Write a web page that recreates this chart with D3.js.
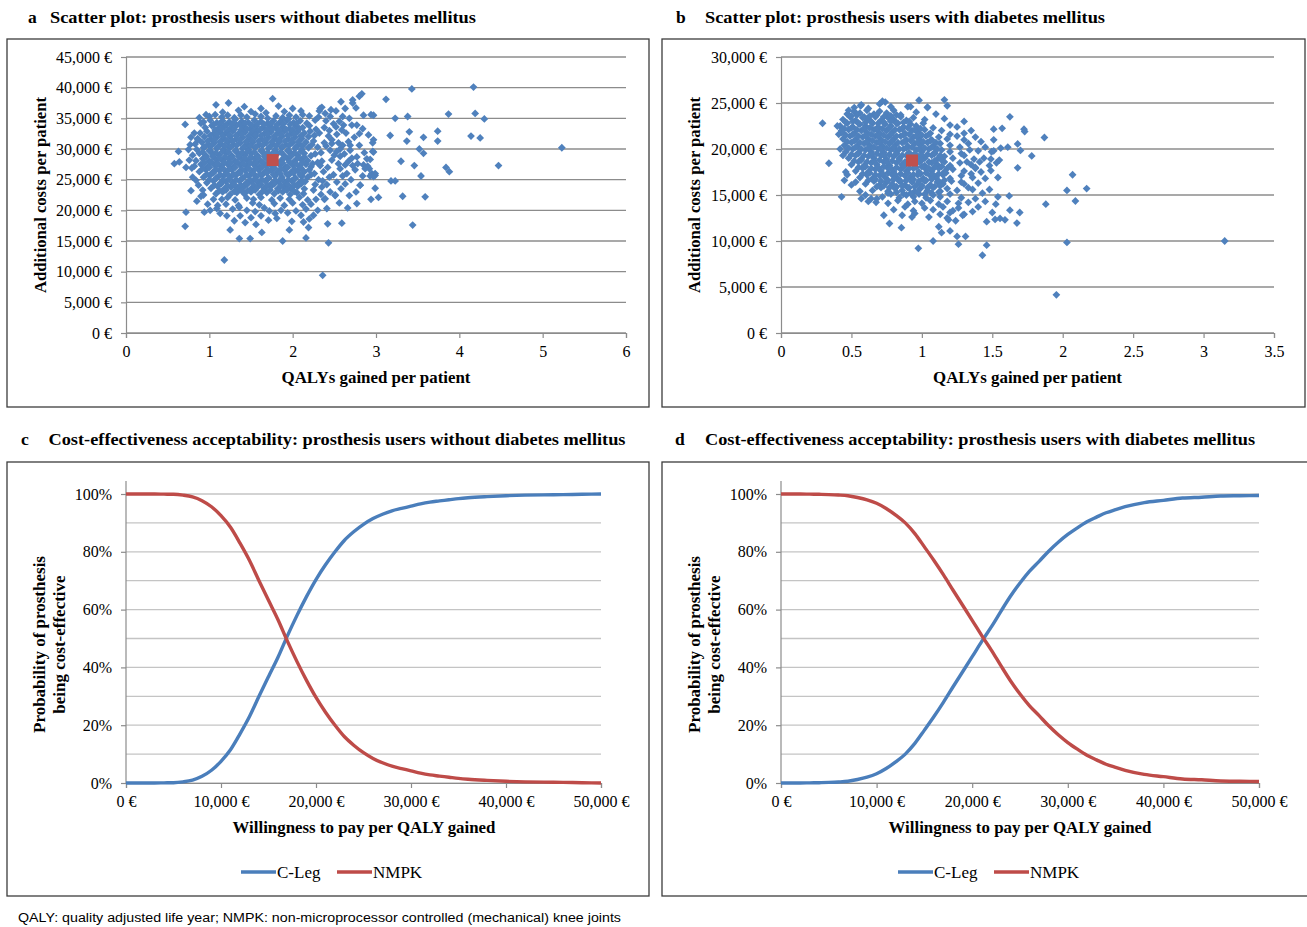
<!DOCTYPE html>
<html>
<head>
<meta charset="utf-8">
<script src="https://cdn.jsdelivr.net/npm/d3@7"></script>
<style>
  body { margin: 0; background: #fff; }
  text { font-family: "Liberation Serif", "Times New Roman", serif; }
</style>
</head>
<body>
<script>
// ---- data (costs in thousand €, probabilities in %) ----
const qalyTicksNoDm = [0, 1, 2, 3, 4, 5, 6];
const costTicksNoDm = [0, 5, 10, 15, 20, 25, 30, 35, 40, 45];
const qalyTicksDm = [0, 0.5, 1, 1.5, 2, 2.5, 3, 3.5];
const costTicksDm = [0, 5, 10, 15, 20, 25, 30];
const wtpTicks = [0, 10000, 20000, 30000, 40000, 50000];
const probTicks = [0, 20, 40, 60, 80, 100];
const probGrid = [0, 10, 20, 30, 40, 50, 60, 70, 80, 90, 100];

const meanNoDm = [1.76, 28.2];
const meanDm = [0.93, 18.75];

// [QALYs gained, additional costs (k€)]
const scatterNoDm = [
[1.0,35.3],[1.07,35.6],[1.15,35.2],[1.22,35.5],[1.3,35.1],[1.38,35.5],[1.45,35.2],[1.55,35.7],[1.62,35.3],[1.7,35.0],[1.8,35.4],[1.88,35.1],[1.96,35.5],[2.04,35.2],[2.12,35.6],
[0.93,34.4],[1.01,34.7],[1.09,34.3],[1.16,34.6],[1.24,34.4],[1.31,34.8],[1.39,34.5],[1.47,34.3],[1.54,34.7],[1.62,34.5],[1.7,34.2],[1.77,34.6],[1.85,34.4],[1.93,34.7],[2.01,34.3],[2.09,34.6],[2.17,34.2],
[0.95,33.5],[1.03,33.8],[1.11,33.4],[1.18,33.7],[1.26,33.5],[1.33,33.9],[1.41,33.6],[1.49,33.3],[1.56,33.7],[1.64,33.5],[1.72,33.8],[1.8,33.4],[1.88,33.6],[1.96,33.3],[2.04,33.7],[2.12,33.5],[2.2,33.8],
[0.89,32.6],[0.97,32.9],[1.05,32.5],[1.13,32.8],[1.2,32.6],[1.28,32.9],[1.35,32.5],[1.43,32.8],[1.51,32.6],[1.58,32.9],[1.66,32.5],[1.74,32.8],[1.82,32.6],[1.9,32.9],[1.98,32.5],[2.06,32.8],[2.14,32.6],[2.21,32.9],
[0.86,31.7],[0.94,32.0],[1.02,31.6],[1.09,31.9],[1.17,31.7],[1.25,32.0],[1.32,31.6],[1.4,31.9],[1.48,31.7],[1.55,32.0],[1.63,31.6],[1.71,31.9],[1.79,31.7],[1.87,32.0],[1.95,31.6],[2.03,31.9],[2.11,31.7],[2.19,32.0],
[0.83,30.8],[0.91,31.1],[0.99,30.7],[1.06,31.0],[1.14,30.8],[1.22,31.1],[1.29,30.7],[1.37,31.0],[1.45,30.8],[1.52,31.1],[1.6,30.7],[1.68,31.0],[1.76,30.8],[1.84,31.1],[1.92,30.7],[2.0,31.0],[2.08,30.8],[2.16,31.1],[2.23,30.7],
[0.85,29.9],[0.93,30.2],[1.01,29.8],[1.09,30.1],[1.17,29.9],[1.24,30.2],[1.32,29.8],[1.4,30.1],[1.47,29.9],[1.55,30.2],[1.63,29.8],[1.71,30.1],[1.79,29.9],[1.87,30.2],[1.95,29.8],[2.03,30.1],[2.11,29.9],[2.19,30.2],
[0.8,29.0],[0.88,29.3],[0.96,28.9],[1.04,29.2],[1.12,29.0],[1.2,29.3],[1.27,28.9],[1.35,29.2],[1.43,29.0],[1.5,29.3],[1.58,28.9],[1.66,29.2],[1.74,29.0],[1.82,29.3],[1.9,28.9],[1.98,29.2],[2.06,29.0],[2.14,29.3],[2.22,28.9],
[0.84,28.1],[0.92,28.4],[1.0,28.0],[1.08,28.3],[1.16,28.1],[1.23,28.4],[1.31,28.0],[1.39,28.3],[1.46,28.1],[1.54,28.4],[1.62,28.0],[1.7,28.3],[1.86,28.1],[1.94,28.4],[2.02,28.0],[2.1,28.3],[2.18,28.1],
[0.82,27.2],[0.9,27.5],[0.98,27.1],[1.06,27.4],[1.14,27.2],[1.22,27.5],[1.29,27.1],[1.37,27.4],[1.45,27.2],[1.53,27.5],[1.6,27.1],[1.68,27.4],[1.76,27.2],[1.84,27.5],[1.92,27.1],[2.0,27.4],[2.08,27.2],[2.16,27.5],[2.22,27.1],
[0.88,26.3],[0.96,26.6],[1.04,26.2],[1.12,26.5],[1.2,26.3],[1.27,26.6],[1.35,26.2],[1.43,26.5],[1.51,26.3],[1.59,26.6],[1.66,26.2],[1.74,26.5],[1.82,26.3],[1.9,26.6],[1.98,26.2],[2.06,26.5],[2.14,26.3],[2.2,26.6],
[0.93,25.4],[1.01,25.7],[1.09,25.3],[1.17,25.6],[1.25,25.4],[1.32,25.7],[1.4,25.3],[1.48,25.6],[1.56,25.4],[1.63,25.7],[1.71,25.3],[1.79,25.6],[1.87,25.4],[1.95,25.7],[2.03,25.3],[2.11,25.6],[2.18,25.4],
[0.97,24.5],[1.05,24.8],[1.13,24.4],[1.2,24.7],[1.28,24.5],[1.36,24.8],[1.44,24.4],[1.51,24.7],[1.59,24.5],[1.67,24.8],[1.75,24.4],[1.83,24.7],[1.91,24.5],[1.99,24.8],[2.07,24.4],[2.15,24.7],
[1.02,23.6],[1.1,23.9],[1.18,23.5],[1.26,23.8],[1.34,23.6],[1.42,23.9],[1.5,23.5],[1.58,23.8],[1.66,23.6],[1.74,23.9],[1.82,23.5],[1.9,23.8],[1.98,23.6],[2.06,23.9],[2.14,23.5],
[1.08,22.7],[1.16,23.0],[1.25,22.6],[1.33,22.9],[1.42,22.7],[1.5,23.0],[1.6,22.6],[1.69,22.9],[1.78,22.7],[1.88,23.0],[1.97,22.6],[2.05,22.9],[2.13,22.7],
[1.15,21.8],[1.22,22.1],[1.31,21.7],[1.45,22.0],[1.53,21.8],[1.62,22.1],[1.75,21.7],[1.85,22.0],[1.96,21.8],[2.08,22.1],[2.18,21.7],
[1.2,21.0],[1.35,20.8],[1.52,21.2],[1.6,20.9],[1.78,21.1],[1.9,20.8],[2.0,21.2],[2.12,20.9],[2.22,21.0],
[1.05,34.0],[1.13,34.2],[1.2,33.9],[1.28,34.1],[1.36,34.0],[1.43,34.2],[1.51,33.9],[1.58,34.1],[1.66,34.0],[1.74,34.2],[1.81,33.9],[1.89,34.1],[1.97,34.0],[2.05,34.2],
[1.07,33.1],[1.15,33.3],[1.22,33.0],[1.3,33.2],[1.38,33.1],[1.45,33.3],[1.53,33.0],[1.61,33.2],[1.69,33.1],[1.76,33.3],[1.84,33.0],[1.92,33.2],[2.0,33.1],[2.08,33.3],
[1.01,32.2],[1.09,32.4],[1.16,32.1],[1.24,32.3],[1.32,32.2],[1.39,32.4],[1.47,32.1],[1.55,32.3],[1.62,32.2],[1.7,32.4],[1.78,32.1],[1.86,32.3],[1.94,32.2],[2.02,32.4],[2.1,32.1],
[0.98,31.3],[1.06,31.5],[1.13,31.2],[1.21,31.4],[1.28,31.3],[1.36,31.5],[1.44,31.2],[1.51,31.4],[1.59,31.3],[1.67,31.5],[1.75,31.2],[1.83,31.4],[1.91,31.3],[1.99,31.5],[2.07,31.2],
[0.95,30.4],[1.03,30.6],[1.1,30.3],[1.18,30.5],[1.26,30.4],[1.33,30.6],[1.41,30.3],[1.49,30.5],[1.56,30.4],[1.64,30.6],[1.72,30.3],[1.8,30.5],[1.88,30.4],[1.96,30.6],[2.04,30.3],[2.12,30.5],
[0.92,29.5],[1.0,29.7],[1.08,29.4],[1.16,29.6],[1.23,29.5],[1.31,29.7],[1.39,29.4],[1.46,29.6],[1.54,29.5],[1.62,29.7],[1.7,29.4],[1.78,29.6],[1.86,29.5],[1.94,29.7],[2.02,29.4],[2.1,29.6],
[0.96,28.6],[1.04,28.8],[1.12,28.5],[1.19,28.7],[1.27,28.6],[1.35,28.8],[1.42,28.5],[1.5,28.7],[1.58,28.6],[1.66,28.8],[1.9,28.6],[1.98,28.8],[2.06,28.5],[2.14,28.7],
[0.94,27.7],[1.02,27.9],[1.1,27.6],[1.18,27.8],[1.25,27.7],[1.33,27.9],[1.41,27.6],[1.49,27.8],[1.56,27.7],[1.64,27.9],[1.72,27.6],[1.8,27.8],[1.88,27.7],[1.96,27.9],[2.04,27.6],[2.12,27.8],
[0.92,26.8],[1.0,27.0],[1.08,26.7],[1.16,26.9],[1.24,26.8],[1.31,27.0],[1.39,26.7],[1.47,26.9],[1.55,26.8],[1.63,27.0],[1.7,26.7],[1.78,26.9],[1.86,26.8],[1.94,27.0],[2.02,26.7],[2.1,26.9],
[0.97,25.9],[1.05,26.1],[1.13,25.8],[1.21,26.0],[1.29,25.9],[1.37,26.1],[1.45,25.8],[1.53,26.0],[1.61,25.9],[1.69,26.1],[1.77,25.8],[1.85,26.0],[1.93,25.9],[2.01,26.1],[2.09,25.8],
[1.0,25.0],[1.08,25.2],[1.16,24.9],[1.24,25.1],[1.32,25.0],[1.4,25.2],[1.48,24.9],[1.55,25.1],[1.63,25.0],[1.71,25.2],[1.79,24.9],[1.87,25.1],[1.95,25.0],[2.03,25.2],[2.11,24.9],
[1.06,24.1],[1.14,24.3],[1.22,24.0],[1.3,24.2],[1.38,24.1],[1.46,24.3],[1.54,24.0],[1.62,24.2],[1.7,24.1],[1.78,24.3],[1.86,24.0],[1.94,24.2],[2.02,24.1],[2.1,24.3],
[1.12,23.2],[1.2,23.3],[1.3,23.1],[1.38,23.3],[1.46,23.2],[1.55,23.3],[1.64,23.1],[1.73,23.3],[1.83,23.2],[1.93,23.3],[2.02,23.1],
[0.75,29.9],[0.72,27.0],[0.8,25.4],[0.84,24.9],[0.82,32.6],[0.78,31.9],[0.76,28.2],[0.88,35.1],[0.92,23.3],[0.85,21.5],[0.98,21.0],[1.05,21.8],[1.1,20.8],
[1.28,20.2],[1.45,20.0],[1.55,19.8],[1.66,20.4],[1.72,19.9],[1.86,20.0],[1.94,19.6],[2.04,19.9],[2.1,19.2],[2.2,18.6],[2.16,20.2],[1.62,19.1],[1.5,18.8],[1.3,18.3],
[1.16,36.0],[1.35,36.3],[1.5,36.1],[1.62,36.6],[1.68,35.9],[1.9,36.1],[2.0,36.6],[2.1,36.2],[1.42,36.9],[1.95,34.9],
[2.33,36.6],[2.45,35.3],[2.27,34.7],[2.49,34.1],[2.6,35.3],[2.61,33.9],[2.59,33.1],[2.71,33.9],[2.67,31.2],[2.47,31.5],[2.43,32.1],[2.32,32.6],[2.53,32.4],[2.55,31.0],
[2.3,30.3],[2.4,30.5],[2.45,29.8],[2.57,30.0],[2.69,29.8],[2.77,28.7],[2.71,28.5],[2.85,27.4],[2.89,28.4],[2.96,29.6],[2.97,31.5],[2.95,26.0],[2.99,25.7],[2.93,25.6],
[2.63,24.3],[2.81,24.1],[2.75,26.6],[2.63,27.4],[2.57,26.8],[2.49,25.8],[2.41,24.2],[2.47,28.2],[2.57,28.8],[2.37,26.3],[2.35,28.0],[2.31,25.0],[2.25,23.3],[2.28,21.8],
[2.3,20.0],[2.39,21.9],[2.51,22.5],[2.33,27.3],[2.27,29.2],[2.25,31.3],[2.38,33.5],[2.52,36.2],[2.68,35.0],[2.55,27.6],[2.65,26.0],[2.7,25.0],[2.45,23.0],[2.58,23.5],
[2.35,23.8],[2.62,29.2],[2.8,30.6],[2.74,31.9],[2.4,34.6],[2.2,35.4],[2.28,33.2],[2.86,29.4],[2.5,29.0],[2.42,27.0],
[2.26,26.0],[2.3,27.8],[2.34,29.4],[2.38,31.0],[2.44,33.0],[2.52,33.6],[2.56,34.5],[2.64,32.6],[2.69,30.6],[2.6,30.6],[2.53,29.6],[2.47,30.9],[2.36,24.8],[2.44,25.4],
[2.53,24.6],[2.6,25.6],[2.72,27.3],[2.67,28.0],[2.78,27.6],[2.84,25.6],[2.76,23.0],[2.68,22.4],[2.56,21.2],[2.34,22.6],[2.27,24.2],[2.22,25.8],[2.24,27.6],[2.26,32.2],
[2.31,35.2],[2.46,36.4],[2.63,36.6],[2.92,26.8],
[0.58,27.6],[0.64,27.9],[0.63,29.6],[0.71,34.0],[0.71,17.4],[0.72,19.7],[0.78,23.2],[0.77,30.7],[0.79,26.9],[0.86,31.5],[0.9,34.2],[0.94,19.7],[0.9,22.3],[0.93,22.5],
[0.87,24.1],[0.96,35.6],[1.08,37.2],[1.23,37.5],[1.18,11.9],[1.25,16.8],[1.36,15.4],[1.49,15.4],[1.63,16.4],[1.36,20.5],[1.43,18.0],[1.13,19.5],[1.09,20.3],[1.21,19.1],
[1.01,20.0],[1.76,38.2],[1.83,37.0],[1.88,15.0],[1.96,16.8],[1.81,18.7],[1.71,18.4],[1.79,19.5],[1.56,17.7],[1.37,19.1],[1.99,18.2],[2.16,15.5],[2.19,17.2],[2.13,18.1],
[2.25,19.2],[2.36,9.4],[2.43,14.7],[2.42,17.8],[2.59,17.9],[2.41,20.3],[2.38,21.8],[2.51,22.4],[2.66,20.4],[2.77,21.1],[2.81,24.1],[2.35,36.8],[2.32,36.2],[2.39,35.8],
[2.58,37.7],[2.72,38.0],[2.72,37.5],[2.76,36.7],[2.8,38.6],[2.83,39.0],[2.77,33.9],[2.84,33.3],[2.8,32.5],[2.85,35.5],[2.91,32.3],[2.94,35.6],[2.97,35.5],[2.96,31.0],
[2.97,29.5],[2.93,28.3],[2.9,27.2],[2.87,26.8],[2.99,26.0],[2.97,25.5],[2.99,23.6],[2.94,21.8],[3.03,22.1],[3.12,38.1],[3.17,32.2],[3.23,35.0],[3.18,24.8],[3.23,24.8],
[3.3,28.0],[3.32,22.3],[3.37,31.3],[3.38,35.3],[3.4,32.8],[3.43,39.8],[3.44,17.6],[3.46,27.3],[3.52,30.0],[3.54,25.6],[3.57,31.9],[3.57,29.3],[3.59,22.2],[3.74,32.9],
[3.74,31.3],[3.84,27.0],[3.88,26.3],[3.87,35.7],[4.14,32.1],[4.17,40.1],[4.19,35.8],[4.25,31.8],[4.3,34.9],[4.47,27.3],[5.23,30.2]
];

// [QALYs gained, additional costs (k€)]
const scatterDm = [
[0.52,24.5],[0.57,24.8],[0.62,24.4],[0.7,24.9],[0.74,25.1],[0.78,24.6],[0.9,24.6],[1.04,24.5],
[0.47,23.8],[0.52,24.1],[0.56,23.9],[0.61,24.2],[0.66,23.8],[0.7,24.1],[0.75,23.9],[0.8,24.2],[0.85,23.7],[0.96,24.0],[1.1,23.8],
[0.44,23.2],[0.49,23.5],[0.53,23.1],[0.58,23.4],[0.62,23.2],[0.67,23.5],[0.71,23.1],[0.76,23.4],[0.8,23.2],[0.85,23.5],[0.89,23.1],[0.94,23.4],[1.02,23.2],
[0.42,22.5],[0.47,22.8],[0.51,22.4],[0.56,22.7],[0.6,22.5],[0.65,22.8],[0.69,22.4],[0.74,22.7],[0.78,22.5],[0.83,22.8],[0.87,22.4],[0.92,22.7],[0.96,22.5],[1.01,22.8],[1.08,22.3],
[0.43,21.8],[0.48,22.1],[0.52,21.7],[0.57,22.0],[0.61,21.8],[0.66,22.1],[0.7,21.7],[0.75,22.0],[0.79,21.8],[0.84,22.1],[0.88,21.7],[0.93,22.0],[0.97,21.8],[1.02,22.1],[1.06,21.7],[1.14,22.0],[1.2,21.6],
[0.44,21.1],[0.49,21.4],[0.53,21.0],[0.58,21.3],[0.62,21.1],[0.67,21.4],[0.71,21.0],[0.76,21.3],[0.8,21.1],[0.85,21.4],[0.89,21.0],[0.94,21.3],[0.98,21.1],[1.03,21.4],[1.07,21.0],[1.12,21.3],[1.18,21.1],[1.25,21.4],[1.3,21.0],
[0.45,20.4],[0.5,20.7],[0.54,20.3],[0.59,20.6],[0.63,20.4],[0.68,20.7],[0.72,20.3],[0.77,20.6],[0.81,20.4],[0.86,20.7],[0.9,20.3],[0.95,20.6],[0.99,20.4],[1.04,20.7],[1.08,20.3],[1.13,20.6],[1.2,20.4],[1.27,20.2],
[0.46,19.7],[0.51,20.0],[0.55,19.6],[0.6,19.9],[0.64,19.7],[0.69,20.0],[0.73,19.6],[0.78,19.9],[0.82,19.7],[0.87,20.0],[0.91,19.6],[0.96,19.9],[1.0,19.7],[1.05,20.0],[1.09,19.6],[1.14,19.9],[1.2,19.7],[1.28,19.5],[1.34,19.9],
[0.48,19.0],[0.53,19.3],[0.57,18.9],[0.62,19.2],[0.66,19.0],[0.71,19.3],[0.75,18.9],[0.8,19.2],[0.84,19.0],[0.89,19.3],[0.98,19.2],[1.02,19.0],[1.07,19.3],[1.11,18.9],[1.16,19.2],[1.22,19.0],[1.3,19.3],[1.37,18.9],
[0.5,18.3],[0.55,18.6],[0.59,18.2],[0.64,18.5],[0.68,18.3],[0.73,18.6],[0.77,18.2],[0.82,18.5],[0.86,18.3],[0.98,18.6],[1.02,18.2],[1.07,18.5],[1.11,18.3],[1.16,18.6],[1.2,18.2],[1.27,18.5],[1.35,18.3],[1.41,18.6],
[0.53,17.6],[0.58,17.9],[0.62,17.5],[0.67,17.8],[0.71,17.6],[0.76,17.9],[0.8,17.5],[0.85,17.8],[0.89,17.6],[0.94,17.9],[0.98,17.5],[1.03,17.8],[1.07,17.6],[1.12,17.9],[1.16,17.5],[1.22,17.8],[1.3,17.6],[1.38,17.9],
[0.56,16.9],[0.61,17.2],[0.65,16.8],[0.7,17.1],[0.74,16.9],[0.79,17.2],[0.83,16.8],[0.88,17.1],[0.92,16.9],[0.97,17.2],[1.01,16.8],[1.06,17.1],[1.1,16.9],[1.15,17.2],[1.2,16.8],[1.28,17.1],[1.36,16.9],
[0.6,16.2],[0.66,16.5],[0.7,16.1],[0.75,16.4],[0.79,16.2],[0.84,16.5],[0.88,16.1],[0.93,16.4],[0.97,16.2],[1.02,16.5],[1.06,16.1],[1.11,16.4],[1.15,16.2],[1.21,16.5],[1.3,16.2],
[0.65,15.5],[0.71,15.8],[0.76,15.4],[0.81,15.7],[0.86,15.5],[0.9,15.8],[0.95,15.4],[0.99,15.7],[1.04,15.5],[1.08,15.8],[1.13,15.4],[1.18,15.7],[1.25,15.5],[1.33,15.8],
[0.72,14.8],[0.78,15.1],[0.84,14.7],[0.89,15.0],[0.94,14.8],[0.98,15.1],[1.03,14.7],[1.08,15.0],[1.13,14.8],[1.2,15.1],[1.28,14.7],
[0.76,14.1],[0.83,14.4],[0.9,14.0],[0.95,14.3],[1.0,14.1],[1.06,14.4],[1.12,14.0],[1.18,14.3],[1.26,14.1],
[0.8,13.4],[0.88,13.7],[0.94,13.3],[1.02,13.6],[1.08,13.4],[1.15,13.7],[1.22,13.3],
[0.86,12.8],[0.95,13.0],[1.05,12.6],[1.13,12.9],
[0.5,23.6],[0.54,23.7],[0.59,23.5],[0.63,23.6],[0.68,23.7],[0.73,23.5],[0.78,23.6],[0.82,23.7],
[0.46,22.9],[0.51,23.0],[0.55,22.8],[0.6,22.9],[0.64,23.0],[0.69,22.8],[0.73,22.9],[0.78,23.0],[0.82,22.8],[0.87,22.9],[0.91,23.0],
[0.45,22.2],[0.5,22.3],[0.54,22.1],[0.59,22.2],[0.63,22.3],[0.68,22.1],[0.72,22.2],[0.77,22.3],[0.81,22.1],[0.86,22.2],[0.9,22.3],[0.95,22.1],[0.99,22.2],
[0.46,21.5],[0.51,21.6],[0.55,21.4],[0.6,21.5],[0.64,21.6],[0.69,21.4],[0.73,21.5],[0.78,21.6],[0.82,21.4],[0.87,21.5],[0.91,21.6],[0.96,21.4],[1.0,21.5],[1.05,21.6],
[0.47,20.8],[0.52,20.9],[0.56,20.7],[0.61,20.8],[0.65,20.9],[0.7,20.7],[0.74,20.8],[0.79,20.9],[0.83,20.7],[0.88,20.8],[0.92,20.9],[0.97,20.7],[1.01,20.8],[1.06,20.9],[1.1,20.7],
[0.48,20.1],[0.53,20.2],[0.57,20.0],[0.62,20.1],[0.66,20.2],[0.71,20.0],[0.75,20.1],[0.8,20.2],[0.84,20.0],[0.89,20.1],[0.93,20.2],[0.98,20.0],[1.02,20.1],[1.07,20.2],[1.11,20.0],
[0.5,19.4],[0.55,19.5],[0.59,19.3],[0.64,19.4],[0.68,19.5],[0.73,19.3],[0.77,19.4],[0.82,19.5],[0.86,19.3],[0.91,19.4],[0.95,19.5],[1.0,19.3],[1.04,19.4],[1.09,19.5],[1.13,19.3],
[0.52,18.7],[0.57,18.8],[0.61,18.6],[0.66,18.7],[0.7,18.8],[0.75,18.6],[0.79,18.7],[0.84,18.8],[0.88,18.6],[0.93,18.7],[1.0,18.8],[1.05,18.6],[1.09,18.7],[1.14,18.8],
[0.55,18.0],[0.6,18.1],[0.64,17.9],[0.69,18.0],[0.73,18.1],[0.78,17.9],[0.82,18.0],[0.87,18.1],[0.91,17.9],[0.96,18.0],[1.0,18.1],[1.05,17.9],[1.09,18.0],[1.14,18.1],[1.18,17.9],
[0.58,17.3],[0.63,17.4],[0.67,17.2],[0.72,17.3],[0.76,17.4],[0.81,17.2],[0.85,17.3],[0.9,17.4],[0.94,17.2],[0.99,17.3],[1.03,17.4],[1.08,17.2],[1.12,17.3],[1.17,17.4],
[0.62,16.6],[0.67,16.7],[0.71,16.5],[0.76,16.6],[0.8,16.7],[0.85,16.5],[0.89,16.6],[0.94,16.7],[0.98,16.5],[1.03,16.6],[1.07,16.7],[1.12,16.5],[1.16,16.6],
[0.68,15.9],[0.73,16.0],[0.77,15.8],[0.82,15.9],[0.86,16.0],[0.91,15.8],[0.95,15.9],[1.0,16.0],[1.04,15.8],[1.09,15.9],[1.13,16.0],
[0.76,15.2],[0.82,15.3],[0.87,15.1],[0.92,15.2],[0.97,15.3],[1.02,15.1],[1.07,15.2],[1.12,15.3],
[1.25,22.4],[1.3,21.7],[1.35,22.0],[1.38,21.3],[1.42,20.8],[1.33,20.6],[1.4,19.8],[1.45,20.2],[1.44,19.0],[1.48,18.2],[1.42,17.5],[1.45,16.8],[1.4,16.3],[1.36,15.6],
[1.43,15.2],[1.38,14.6],[1.33,14.2],[1.4,13.7],[1.36,13.2],[1.3,12.9],[1.26,13.6],[1.2,13.1],[1.18,12.5],[1.24,12.2],[1.45,14.3],[1.48,15.6],[1.3,23.0],[1.2,22.6],
[1.16,23.3],[1.28,16.4],[1.35,17.3],[1.32,18.6],[1.38,18.0],
[0.41,21.6],[0.42,20.0],[0.44,19.3],[0.46,17.5],[0.45,16.6],[0.47,17.2],[0.5,16.1],[0.53,16.4],[0.56,15.4],[0.6,15.0],[0.48,24.2],[0.4,22.5],[0.43,22.0],[0.62,14.3],[0.68,14.6],
[0.72,25.2],[0.98,25.3],[1.16,25.35],[1.18,24.7],[1.04,24.55],[0.92,24.6],[0.565,24.7],
[0.295,22.8],[0.34,18.45],[0.43,14.8],[0.57,14.6],[0.64,14.6],[0.675,14.2],[0.73,12.8],[0.77,11.9],[0.855,11.45],[0.93,12.6],[0.975,9.2],[1.08,10.0],[1.14,10.9],
[1.12,11.55],[1.2,11.1],[1.19,12.3],[1.25,10.5],[1.31,10.5],[1.26,9.65],[1.29,12.8],[1.43,8.45],[1.46,9.55],[1.46,12.1],[1.52,12.35],[1.555,12.45],[1.59,12.3],
[1.675,11.95],[1.695,13.1],[1.625,13.35],[1.62,14.9],[1.525,14.0],[1.5,13.1],[1.54,14.8],[1.54,16.9],[1.49,17.65],[1.53,18.5],[1.55,18.8],[1.49,18.9],[1.495,19.7],
[1.51,19.8],[1.56,20.1],[1.61,20.2],[1.51,21.0],[1.51,22.15],[1.57,22.25],[1.625,23.5],[1.68,20.55],[1.68,17.95],[1.7,19.85],[1.725,22.15],[1.73,21.9],[1.78,19.25],
[1.87,21.25],[1.88,14.0],[1.955,4.15],[2.03,15.5],[2.03,9.85],[2.07,17.2],[2.09,14.35],[2.17,15.7],[3.15,10.0]
];

// cost-effectiveness acceptability curves
const wtp = [0,1000,2000,3000,4000,5000,6000,7000,8000,9000,10000,11000,12000,13000,14000,15000,16000,17000,18000,19000,20000,
  21000,22000,23000,24000,25000,26000,27000,28000,29000,30000,31000,32000,33000,34000,35000,36000,38000,40000,42000,44000,46000,48000,50000];
const cLegNoDm = [0,0,0,0,0.05,0.1,0.4,1.0,2.3,4.4,7.5,11.5,17,23,30,36.8,43.5,51,58,64.5,70.4,
  75.5,80,84,87,89.5,91.5,93,94.2,95,95.8,96.6,97.2,97.6,98,98.4,98.7,99.1,99.4,99.6,99.7,99.8,99.9,100];
const nmpkNoDm = [100,100,100,100,99.95,99.9,99.6,99,97.7,95.6,92.5,88.5,83,77,70,63.2,56.5,49,42,35.5,29.6,
  24.5,20,16,13,10.5,8.5,7,5.8,5,4.2,3.4,2.8,2.4,2,1.6,1.3,0.9,0.6,0.4,0.3,0.2,0.1,0];
const cLegDm = [0,0,0,0.05,0.1,0.2,0.35,0.6,1.2,2,3.2,5,7.3,10,13.7,18.3,23,28,33.3,38.5,43.7,
  49,54,59.4,64.6,69.2,73.3,76.7,80.2,83.3,86,88.3,90.4,92,93.5,94.6,95.6,97,97.8,98.6,98.9,99.3,99.4,99.5];
const nmpkDm = [100,100,100,99.95,99.9,99.8,99.65,99.4,98.8,98,96.8,95,92.7,90,86.3,81.7,77,72,66.7,61.5,56.3,
  51,46,40.6,35.4,30.8,26.7,23.3,19.8,16.7,14,11.7,9.6,8,6.5,5.4,4.4,3,2.2,1.4,1.1,0.7,0.6,0.5];

const BLUE = "#4F81BD", RED = "#C0504D", LBLUE = "#4A7EBB", LRED = "#BE4B48";

const svg = d3.select("body").append("svg").attr("width", 1307).attr("height", 927);
svg.append("rect").attr("width", 1307).attr("height", 927).attr("fill", "#fff");

const euro = d => d3.format(",")(d) + " €";

function frame(f) {
  svg.append("rect").attr("x", f[0]).attr("y", f[1])
    .attr("width", f[2] - f[0]).attr("height", f[3] - f[1])
    .attr("fill", "none").attr("stroke", "#3c3c3c").attr("stroke-width", 1.3);
}

function heading(letterX, textX, y, letter, title, len) {
  svg.append("text").attr("x", letterX).attr("y", y).attr("font-size", 17.5).attr("font-weight", "bold").text(letter);
  svg.append("text").attr("x", textX).attr("y", y).attr("font-size", 17.5).attr("font-weight", "bold")
    .attr("textLength", len).attr("lengthAdjust", "spacingAndGlyphs").text(title);
}

function styleAxis(a, col) {
  a.selectAll("path.domain").attr("stroke", col).attr("stroke-width", 1.2);
  a.selectAll(".tick line").attr("stroke", col).attr("stroke-width", 1.2);
  a.selectAll(".tick text").attr("fill", "#000").attr("font-size", 16)
    .style("font-family", "Liberation Serif, Times New Roman, serif");
}

function scatter(p) {
  frame(p.frame);
  heading(p.head[0], p.head[1], 23, p.letter, p.title, p.head[2]);
  const x = d3.scaleLinear().domain(p.xDom).range([p.l, p.r]);
  const y = d3.scaleLinear().domain(p.yDom).range([p.b, p.t]);
  const g = svg.append("g");

  // gridlines
  g.append("g").selectAll("line").data(p.yTicks).join("line")
    .attr("x1", p.l).attr("x2", p.r).attr("y1", d => y(d)).attr("y2", d => y(d))
    .attr("stroke", "#8c8c8c").attr("stroke-width", 1.3);

  g.append("g").attr("transform", `translate(${p.l},0)`)
    .call(d3.axisLeft(y).tickValues(p.yTicks).tickSizeOuter(0).tickSize(5).tickPadding(9)
      .tickFormat(d => euro(d * 1000)))
    .call(a => styleAxis(a, "#8c8c8c"));
  g.append("g").attr("transform", `translate(0,${p.b})`)
    .call(d3.axisBottom(x).tickValues(p.xTicks).tickSizeOuter(0).tickSize(5).tickPadding(8)
      .tickFormat(d3.format("")))
    .call(a => styleAxis(a, "#8c8c8c"));

  g.append("g").selectAll("path").data(p.data).join("path")
    .attr("transform", d => `translate(${x(d[0])},${y(d[1])})`)
    .attr("d", "M0,-3.9L3.9,0L0,3.9L-3.9,0Z")
    .attr("fill", BLUE);

  g.append("rect").attr("x", x(p.mean[0]) - 6).attr("y", y(p.mean[1]) - 6)
    .attr("width", 12).attr("height", 12).attr("fill", RED);

  svg.append("text").attr("transform", `translate(${p.yTitleX},${(p.t + p.b) / 2}) rotate(-90)`)
    .attr("text-anchor", "middle").attr("font-size", 17).attr("font-weight", "bold")
    .attr("textLength", 196).attr("lengthAdjust", "spacingAndGlyphs")
    .text("Additional costs per patient");
  svg.append("text").attr("x", (p.l + p.r) / 2).attr("y", 383)
    .attr("text-anchor", "middle").attr("font-size", 17).attr("font-weight", "bold")
    .attr("textLength", 189).attr("lengthAdjust", "spacingAndGlyphs")
    .text("QALYs gained per patient");
}

function ceac(p) {
  frame(p.frame);
  heading(p.head[0], p.head[1], 445, p.letter, p.title, p.head[2]);
  const x = d3.scaleLinear().domain([0, 50000]).range([p.l, p.r]);
  const y = d3.scaleLinear().domain([0, 100]).range([p.b, p.t]);
  const g = svg.append("g");

  g.append("g").selectAll("line").data(probGrid).join("line")
    .attr("x1", p.l).attr("x2", p.r).attr("y1", d => y(d)).attr("y2", d => y(d))
    .attr("stroke", "#c4c4c4").attr("stroke-width", 1.3);

  // value axis runs a little above 100%
  g.append("line").attr("x1", p.l).attr("x2", p.l).attr("y1", y(104.5)).attr("y2", p.b)
    .attr("stroke", "#8c8c8c").attr("stroke-width", 1.2);
  g.append("g").attr("transform", `translate(${p.l},0)`)
    .call(d3.axisLeft(y).tickValues(probTicks).tickSizeOuter(0).tickSize(5).tickPadding(9)
      .tickFormat(d => d + "%"))
    .call(a => a.select(".domain").remove())
    .call(a => styleAxis(a, "#8c8c8c"));
  g.append("g").attr("transform", `translate(0,${p.b})`)
    .call(d3.axisBottom(x).tickValues(wtpTicks).tickSizeOuter(0).tickSize(5).tickPadding(8)
      .tickFormat(euro))
    .call(a => styleAxis(a, "#8c8c8c"));

  const line = d3.line().x((d, i) => x(wtp[i])).y(d => y(d)).curve(d3.curveMonotoneX);
  g.append("path").attr("d", line(p.cleg)).attr("fill", "none").attr("stroke", LBLUE).attr("stroke-width", 3.4);
  g.append("path").attr("d", line(p.nmpk)).attr("fill", "none").attr("stroke", LRED).attr("stroke-width", 3.4);

  const yt = svg.append("text").attr("transform", `translate(${p.yTitleX},${(p.t + p.b) / 2 + 6}) rotate(-90)`)
    .attr("text-anchor", "middle").attr("font-size", 17).attr("font-weight", "bold");
  yt.append("tspan").attr("x", 0).attr("dy", 0).text("Probability of prosthesis");
  yt.append("tspan").attr("x", 0).attr("dy", 19.5).text("being cost-effective");

  svg.append("text").attr("x", p.xTitleX).attr("y", 833)
    .attr("text-anchor", "middle").attr("font-size", 17).attr("font-weight", "bold")
    .attr("textLength", 263).attr("lengthAdjust", "spacingAndGlyphs")
    .text("Willingness to pay per QALY gained");

  // legend
  const lg = svg.append("g").attr("transform", `translate(${p.legX},872)`);
  [["C-Leg", LBLUE, 0], ["NMPK", LRED, 96]].forEach(([name, col, dx]) => {
    lg.append("line").attr("x1", dx).attr("x2", dx + 35).attr("y1", 0).attr("y2", 0)
      .attr("stroke", col).attr("stroke-width", 3.4);
    lg.append("text").attr("x", dx + 36).attr("y", 6).attr("font-size", 17).text(name);
  });
}

scatter({
  frame: [7, 39, 649, 407], l: 126, r: 626, t: 57, b: 333,
  xDom: [0, 6], yDom: [0, 45], xTicks: qalyTicksNoDm, yTicks: costTicksNoDm,
  data: scatterNoDm, mean: meanNoDm, yTitleX: 46,
  letter: "a", title: "Scatter plot: prosthesis users without diabetes mellitus", head: [28, 50, 426]
});
scatter({
  frame: [662, 39, 1305, 407], l: 781, r: 1274, t: 57, b: 333,
  xDom: [0, 3.5], yDom: [0, 30], xTicks: qalyTicksDm, yTicks: costTicksDm,
  data: scatterDm, mean: meanDm, yTitleX: 700,
  letter: "b", title: "Scatter plot: prosthesis users with diabetes mellitus", head: [676, 705, 400]
});
ceac({
  frame: [7, 462, 649, 896], l: 126, r: 601, t: 494, b: 783,
  cleg: cLegNoDm, nmpk: nmpkNoDm, yTitleX: 45, xTitleX: 364, legX: 241,
  letter: "c", title: "Cost-effectiveness acceptability: prosthesis users without diabetes mellitus", head: [21, 48.5, 577]
});
ceac({
  frame: [662, 462, 1312, 896], l: 781, r: 1259, t: 494, b: 783,
  cleg: cLegDm, nmpk: nmpkDm, yTitleX: 700, xTitleX: 1020, legX: 898,
  letter: "d", title: "Cost-effectiveness acceptability: prosthesis users with diabetes mellitus", head: [675, 705, 550]
});

svg.append("text").attr("x", 18).attr("y", 922)
  .style("font-family", "'Liberation Sans', Arial, sans-serif").attr("font-size", 12.5)
  .attr("textLength", 603).attr("lengthAdjust", "spacingAndGlyphs")
  .text("QALY: quality adjusted life year; NMPK: non-microprocessor controlled (mechanical) knee joints");
</script>
</body>
</html>
